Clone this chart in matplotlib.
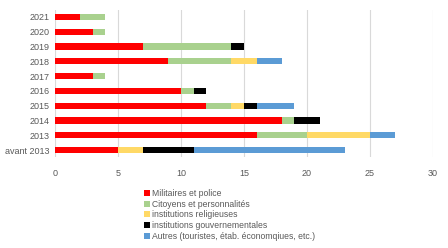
import matplotlib
matplotlib.use("Agg")
import matplotlib.pyplot as plt
import numpy as np

plt.rcParams['font.family'] = ['Liberation Sans', 'DejaVu Sans']

categories = ["avant 2013", "2013", "2014", "2015", "2016", "2017", "2018", "2019", "2020", "2021"]
militaires = [5, 16, 18, 12, 10, 3, 9, 7, 3, 2]
citoyens = [0, 4, 1, 2, 1, 1, 5, 7, 1, 2]
religieuses = [2, 5, 0, 1, 0, 0, 2, 0, 0, 0]
gouvernementales = [4, 0, 2, 1, 1, 0, 0, 1, 0, 0]
autres = [12, 2, 0, 3, 0, 0, 2, 0, 0, 0]

series = [
    ("Militaires et police", militaires, "#FF0000"),
    ("Citoyens et personnalités", citoyens, "#A9D18E"),
    ("institutions religieuses", religieuses, "#FFD966"),
    ("institutions gouvernementales", gouvernementales, "#000000"),
    ("Autres (touristes, étab. économqiues, etc.)", autres, "#5B9BD5"),
]

fig = plt.figure(figsize=(4.48, 2.48), dpi=100)
ax = fig.add_axes([55/448, 1-157.4/248, (433-55)/448, (157.4-9.6)/248])
y = np.arange(len(categories))
left = np.zeros(len(categories))
handles = []
for name, vals, col in series:
    h = ax.barh(y, vals, left=left, height=0.42, color=col, label=name, zorder=3)
    handles.append(h)
    left += np.array(vals)

ax.set_xlim(0, 30)
ax.set_ylim(-0.5, len(categories)-0.5)
ax.set_xticks(range(0, 31, 5))
ax.set_yticks(y)
ax.set_yticklabels(categories)
ax.xaxis.grid(True, color="#D9D9D9", linewidth=0.8, zorder=0)
for s in ax.spines.values():
    s.set_visible(False)
ax.tick_params(axis="both", length=0, labelsize=6.5, colors="#595959", pad=4)
ax.tick_params(axis="x", pad=8)

fig.legend(handles=handles, loc="upper left", bbox_to_anchor=(140/448, 1-184.5/248),
           frameon=False, fontsize=6.2, handlelength=0.7, handleheight=0.7,
           handletextpad=0.2, labelspacing=0.2, borderpad=0, labelcolor="#595959")

fig.savefig("out.png", dpi=100)
